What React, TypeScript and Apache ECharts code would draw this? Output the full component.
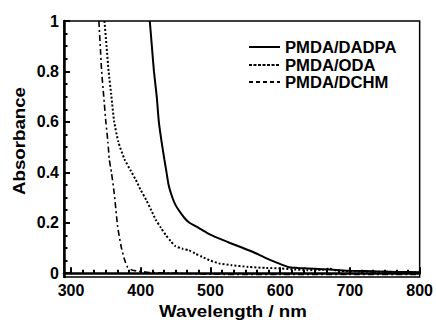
import React, { useEffect, useRef } from "react";
import * as echarts from "echarts";

const xTicks = [300, 400, 500, 600, 700, 800];
const yTicks = [0, 0.2, 0.4, 0.6, 0.8, 1];

const seriesNames = ["PMDA/DADPA", "PMDA/ODA", "PMDA/DCHM"];

const dadpaX = [413, 416, 419, 423, 426, 430, 434, 437, 440, 445, 450, 457, 464, 470, 483, 495, 512, 528, 545, 562, 578, 595, 611, 625, 639, 660, 680, 700, 740, 770, 800];
const dadpaY = [1.0, 0.9, 0.8, 0.7, 0.6, 0.52, 0.45, 0.4, 0.35, 0.303, 0.27, 0.24, 0.215, 0.2, 0.18, 0.16, 0.138, 0.12, 0.102, 0.083, 0.062, 0.042, 0.025, 0.021, 0.019, 0.016, 0.013, 0.01, 0.007, 0.005, 0.004];

const odaX = [348, 351, 354, 358, 362, 368, 377, 385, 393, 400, 408, 415, 422, 429, 436, 443, 450, 460, 469, 478, 488, 500, 512, 530, 554, 580, 601, 620, 639, 660, 670, 680, 700, 740, 800];
const odaY = [1.0, 0.9, 0.8, 0.7, 0.6, 0.52, 0.45, 0.41, 0.37, 0.33, 0.29, 0.25, 0.21, 0.18, 0.151, 0.127, 0.107, 0.097, 0.091, 0.078, 0.065, 0.05, 0.039, 0.032, 0.025, 0.021, 0.019, 0.015, 0.012, 0.014, 0.018, 0.011, 0.008, 0.006, 0.004];

const dchmX = [340, 342, 344, 347, 350, 353, 355, 358, 362, 367, 372, 377, 381, 388, 400, 412, 450, 500, 600, 700, 800];
const dchmY = [1.0, 0.9, 0.8, 0.7, 0.6, 0.52, 0.45, 0.4, 0.318, 0.184, 0.105, 0.052, 0.025, 0.012, 0.007, 0.003, 0.0, -0.004, -0.005, -0.005, -0.005];

const FONT = "'Liberation Sans', Arial, sans-serif";

function pairs(xs: number[], ys: number[]) {
  return xs.map((x, i) => [x, ys[i]]);
}

export default function App() {
  const ref = useRef<HTMLDivElement>(null);
  useEffect(() => {
    if (!ref.current) return;
    const chart = echarts.init(ref.current, null, { renderer: "svg" });

    const xMinor: number[] = [];
    for (let i = 0; i < xTicks.length - 1; i++) {
      for (let k = 1; k < 6; k++) xMinor.push(xTicks[i] + (k * (xTicks[i + 1] - xTicks[i])) / 6);
    }
    const yMinor: number[] = [];
    for (let i = 0; i < yTicks.length - 1; i++) {
      for (let k = 1; k < 4; k++) yMinor.push(+(yTicks[i] + (k * (yTicks[i + 1] - yTicks[i])) / 4).toFixed(3));
    }

    const lineStyles = [
      { type: "solid" as any, width: 2 },
      { type: [2, 2] as any, width: 2 },
      { type: [6, 3, 2, 3] as any, width: 1.6 },
    ];
    const legendDash = [null, [3, 1.5], [4, 3]];

    const legendY = [47, 65, 82];
    const legendGraphics: any[] = [];
    seriesNames.forEach((name, i) => {
      legendGraphics.push({
        type: "line",
        shape: { x1: 249, y1: legendY[i], x2: 280, y2: legendY[i] },
        style: { stroke: "#000", lineWidth: 2, lineDash: legendDash[i] },
      });
      legendGraphics.push({
        type: "text",
        x: 285,
        y: legendY[i],
        scaleX: 1.04,
        style: { text: name, font: `bold 16px ${FONT}`, fill: "#000", textVerticalAlign: "middle", verticalAlign: "middle" },
      });
    });

    const labelStyle = { color: "#000", fontFamily: FONT, fontWeight: "bold", fontSize: 16 };

    chart.setOption({
      animation: false,
      backgroundColor: "#fff",
      grid: { left: 64, right: 13, top: 21, bottom: 43, show: true, borderColor: "#000", borderWidth: 1.5, backgroundColor: "transparent" },
      xAxis: [
        {
          type: "value",
          min: 290,
          max: 800,
          position: "bottom",
          splitLine: { show: false },
          axisLine: { show: true, lineStyle: { color: "#000", width: 2.5 } },
          axisTick: { show: true, inside: true, length: 6, customValues: xTicks, lineStyle: { color: "#000", width: 2 } },
          axisLabel: { customValues: xTicks, ...labelStyle, margin: 5 },
        },
        {
          type: "value",
          min: 290,
          max: 800,
          position: "bottom",
          splitLine: { show: false },
          axisLine: { show: false },
          axisTick: { show: true, inside: true, length: 3.5, customValues: xMinor, lineStyle: { color: "#000", width: 2 } },
          axisLabel: { show: false },
        },
      ],
      yAxis: [
        {
          type: "value",
          min: -0.015,
          max: 1,
          position: "left",
          splitLine: { show: false },
          axisLine: { show: true, lineStyle: { color: "#000", width: 2.5 } },
          axisTick: { show: true, inside: true, length: 6, customValues: yTicks, lineStyle: { color: "#000", width: 2 } },
          axisLabel: { customValues: yTicks, ...labelStyle, margin: 5 },
        },
        {
          type: "value",
          min: -0.015,
          max: 1,
          position: "left",
          splitLine: { show: false },
          axisLine: { show: false },
          axisTick: { show: true, inside: true, length: 3.5, customValues: yMinor, lineStyle: { color: "#000", width: 2 } },
          axisLabel: { show: false },
        },
      ],
      graphic: [
        {
          type: "text",
          x: 233,
          y: 311,
          scaleX: 1.1,
          style: { text: "Wavelength / nm", font: `bold 17px ${FONT}`, fill: "#000", textAlign: "center", textVerticalAlign: "middle", align: "center", verticalAlign: "middle" },
        },
        {
          type: "text",
          x: 19,
          y: 141,
          rotation: Math.PI / 2,
          scaleX: 1.1,
          style: { text: "Absorbance", font: `bold 17px ${FONT}`, fill: "#000", textAlign: "center", textVerticalAlign: "middle", align: "center", verticalAlign: "middle" },
        },
        ...legendGraphics,
      ],
      series: [
        { name: seriesNames[0], type: "line", showSymbol: false, symbol: "none", data: pairs(dadpaX, dadpaY), lineStyle: { color: "#000", ...lineStyles[0] }, smooth: 0.2 },
        { name: seriesNames[1], type: "line", showSymbol: false, symbol: "none", data: pairs(odaX, odaY), lineStyle: { color: "#000", ...lineStyles[1] }, smooth: 0.2 },
        { name: seriesNames[2], type: "line", showSymbol: false, symbol: "none", data: pairs(dchmX, dchmY), lineStyle: { color: "#000", ...lineStyles[2] }, smooth: 0.2 },
      ],
    });
    return () => chart.dispose();
  }, []);
  return <div ref={ref} style={{ width: 436, height: 320, position: "absolute", left: 0, top: 0 }} />;
}
